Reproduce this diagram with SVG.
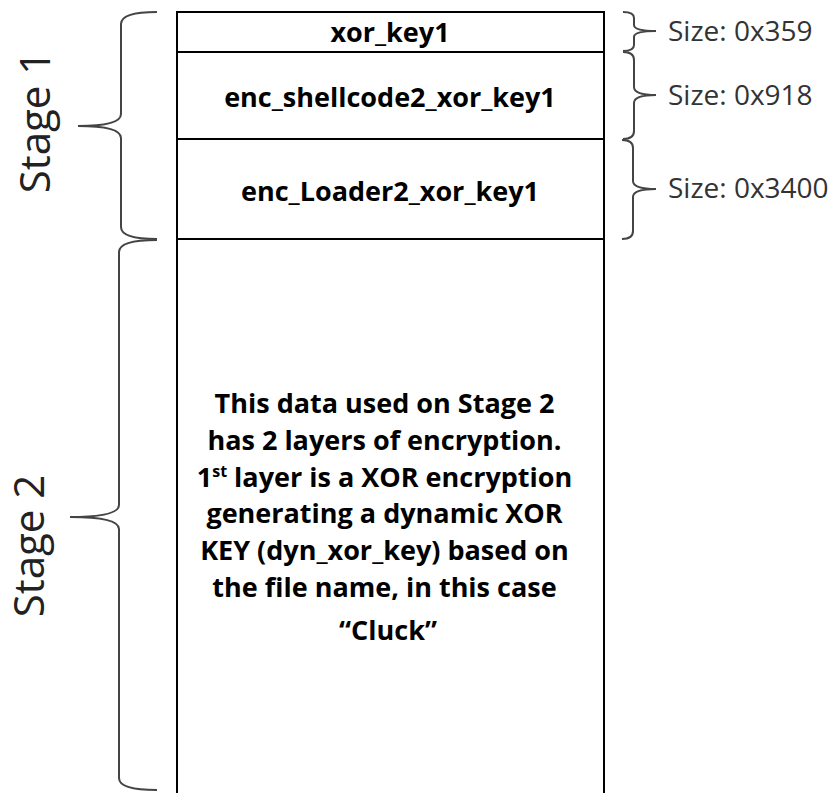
<svg xmlns="http://www.w3.org/2000/svg" width="834" height="793" viewBox="0 0 834 793">
<style>
.box{fill:#fff;stroke:#000;stroke-width:2}
.lbl{font-family:"Open Sans","Liberation Sans",sans-serif;font-weight:bold;font-size:27px;fill:#000;text-anchor:middle}
.sz{font-family:"Open Sans","Liberation Sans",sans-serif;font-size:28px;fill:#333}
.stage{font-family:"Open Sans","Liberation Sans",sans-serif;font-size:42px;fill:#222;text-anchor:middle}
.brace{fill:none;stroke:#444;stroke-width:2}
</style>
<rect width="834" height="793" fill="#fff"/>
<g id="stage1-label"><text class="stage" transform="translate(50,122) rotate(-90)">Stage 1</text></g>
<g id="stage2-label"><text class="stage" transform="translate(44,546) rotate(-90)">Stage 2</text></g>
<g id="xor_key1"><rect class="box" x="177" y="12" width="427" height="40"/><text class="lbl" x="390" y="42">xor_key1</text></g>
<g id="enc_shellcode2"><rect class="box" x="177" y="52" width="427" height="87"/><text class="lbl" x="390" y="107">enc_shellcode2_xor_key1</text></g>
<g id="enc_loader2"><rect class="box" x="177" y="139" width="427" height="100"/><text class="lbl" x="390" y="201">enc_Loader2_xor_key1</text></g>
<g id="stage2-data"><path class="box" d="M177,800 V239 H604 V800"/>
<text class="lbl">
<tspan x="388" y="413">This data used on Stage 2</tspan>
<tspan x="388" y="450">has 2 layers of encryption.</tspan>
<tspan x="388" y="487">1<tspan font-size="16" dy="-10">st</tspan><tspan dy="10"> layer is a XOR encryption</tspan></tspan>
<tspan x="388" y="523">generating a dynamic XOR</tspan>
<tspan x="388" y="560">KEY (dyn_xor_key) based on</tspan>
<tspan x="388" y="597">the file name, in this case</tspan>
<tspan x="388" y="640">“Cluck”</tspan>
</text></g>
<g id="braces">
<path class="brace" d="M157,12 Q121,12 121,24 L121,114 Q121,126 78,126 Q121,126 121,138 L121,227 Q121,239 157,239"/>
<path class="brace" d="M157,240 Q119,240 119,252 L119,505 Q119,517 70,517 Q119,517 119,529 L119,778 Q119,790 157,790"/>
<path class="brace" d="M623,12 Q634,12 634,18 L634,25 Q634,31 656,31 Q634,31 634,37 L634,45 Q634,51 623,51"/>
<path class="brace" d="M623,52 Q634,52 634,60 L634,87 Q634,95 656,95 Q634,95 634,103 L634,131 Q634,139 623,139"/>
<path class="brace" d="M622,140 Q633,140 633,148 L633,181 Q633,189 656,189 Q633,189 633,197 L633,231 Q633,239 622,239"/>
</g>
<g id="sizes">
<text class="sz" x="668" y="41">Size: 0x359</text>
<text class="sz" x="668" y="105">Size: 0x918</text>
<text class="sz" x="668" y="198">Size: 0x3400</text>
</g>
</svg>
